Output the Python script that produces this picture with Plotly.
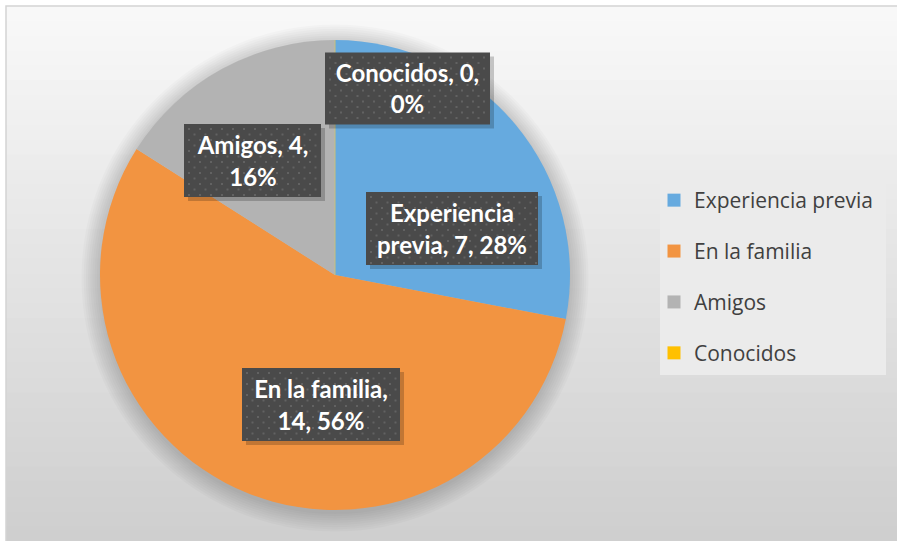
import plotly.graph_objects as go

# ---- data ----
categories = ["Experiencia previa", "En la familia", "Amigos", "Conocidos"]
values = [7, 14, 4, 0]
colors = ["#66AADF", "#F29441", "#B3B3B3", "#FFC000"]
# number of words on the first line of each data label
first_line_words = [1, 3, 2, 2]

W, H = 897, 541

def px(x):
    return x / W

def py(y):
    return 1 - y / H

# ---- layout constants ----
cx, cy, r = 335, 275, 235
label_boxes = [  # center x, center y, width, height (pixels)
    (452, 228.5, 172, 73),
    (321, 404.5, 158, 73),
    (252.5, 160.5, 137, 73),
    (407.5, 88.5, 165, 72),
]
legend_box = (660, 172, 886, 375)

fig = go.Figure()

shapes = []
# background gradient (vertical bands, slightly overlapping)
top_c, bot_c = 249, 206
n = 36
y0 = 6
for i in range(n):
    a = y0 + (H - y0) * i / n
    b = y0 + (H - y0) * (i + 1) / n + 1.5
    t = (i + 0.5) / n
    c = int(round(top_c + (bot_c - top_c) * t))
    shapes.append(dict(type="rect", xref="paper", yref="paper",
                       x0=px(6), x1=1.01, y0=py(b), y1=py(a),
                       fillcolor=f"rgb({c},{c},{c})", line=dict(width=0), layer="below"))
# border
shapes.append(dict(type="rect", xref="paper", yref="paper",
                   x0=px(6), x1=1.01, y0=-0.01, y1=py(6),
                   fillcolor="rgba(0,0,0,0)", line=dict(color="#d4d4d4", width=1.5), layer="below"))
# soft shadow around pie
for k in range(9):
    rr = r + 1 + k * 2.2
    sx, sy = cx, cy + 3
    shapes.append(dict(type="circle", xref="paper", yref="paper",
                       x0=px(sx - rr), x1=px(sx + rr), y0=py(sy + rr), y1=py(sy - rr),
                       fillcolor="rgba(0,0,0,0.018)", line=dict(width=0), layer="below"))
# legend box
lx0, ly0, lx1, ly1 = legend_box
shapes.append(dict(type="rect", xref="paper", yref="paper",
                   x0=px(lx0), x1=px(lx1), y0=py(ly1), y1=py(ly0),
                   fillcolor="#ebebeb", line=dict(width=0), layer="below"))
# zero-size slice boundary
shapes.append(dict(type="line", xref="paper", yref="paper",
                   x0=px(cx), x1=px(cx), y0=py(cy), y1=py(cy - r),
                   line=dict(color="#c9c07a", width=1), layer="above"))

# label boxes: shadow, fill, dotted texture
for (bx, by, bw, bh) in label_boxes:
    l, rgt, t, b = bx - bw / 2, bx + bw / 2, by - bh / 2, by + bh / 2
    shapes.append(dict(type="rect", xref="paper", yref="paper",
                       x0=px(l + 4), x1=px(rgt + 4), y0=py(b + 4), y1=py(t + 4),
                       fillcolor="rgba(0,0,0,0.2)", line=dict(width=0), layer="above"))
    shapes.append(dict(type="rect", xref="paper", yref="paper",
                       x0=px(l), x1=px(rgt), y0=py(b), y1=py(t),
                       fillcolor="#4a4a4a", line=dict(width=0), layer="above"))
    row = 0
    yy = t + 4
    while yy < b - 2:
        xx = l + 4 + (5.5 if row % 2 else 0)
        while xx < rgt - 2:
            shapes.append(dict(type="rect", xref="paper", yref="paper",
                               x0=px(xx), x1=px(xx + 2), y0=py(yy + 2), y1=py(yy),
                               fillcolor="#626262", line=dict(width=0), layer="above"))
            xx += 11
        yy += 5.5
        row += 1

fig.add_trace(go.Pie(
    labels=categories, values=values, marker=dict(colors=colors, line=dict(width=0)),
    sort=False, direction="clockwise", rotation=0, textinfo="none",
    hoverinfo="label+value+percent", showlegend=False,
    domain=dict(x=[px(cx - r), px(cx + r)], y=[py(cy + r), py(cy - r)]),
))

# legend entries via dummy traces
for cat, col in zip(categories, colors):
    fig.add_trace(go.Scatter(x=[None], y=[None], mode="markers", name=cat,
                             legendgroup=cat,
                             marker=dict(symbol="square", size=13, color=col)))

total = sum(values)
annotations = []
for cat, v, nw, box in zip(categories, values, first_line_words, label_boxes):
    pct = round(100 * v / total)
    words = f"{cat}, {v}, {pct}%".split(" ")
    text = " ".join(words[:nw]) + "<br>" + " ".join(words[nw:])
    bx, by, bw, bh = box
    annotations.append(dict(
        x=px(bx), y=py(by), xref="paper", yref="paper", xanchor="center", yanchor="middle",
        text=f"<b>{text}</b>", showarrow=False, align="center",
        width=bw, height=bh, borderpad=0, bgcolor="rgba(0,0,0,0)",
        font=dict(family="Lato", size=24, color="white"),
    ))

fig.update_layout(
    width=W, height=H, margin=dict(l=0, r=0, t=0, b=0),
    paper_bgcolor="white", plot_bgcolor="rgba(0,0,0,0)",
    xaxis=dict(visible=False), yaxis=dict(visible=False),
    shapes=shapes, annotations=annotations,
    showlegend=True,
    legend=dict(x=px(654), y=py(180), xanchor="left", yanchor="top",
                bgcolor="rgba(0,0,0,0)", borderwidth=0, traceorder="grouped",
                tracegroupgap=20.6, itemclick=False, itemwidth=30,
                font=dict(family="Open Sans", size=21, color="#404040")),
)

fig.write_html("out.html", config={"displayModeBar": False},
               post_script="document.body.style.margin='0';")
